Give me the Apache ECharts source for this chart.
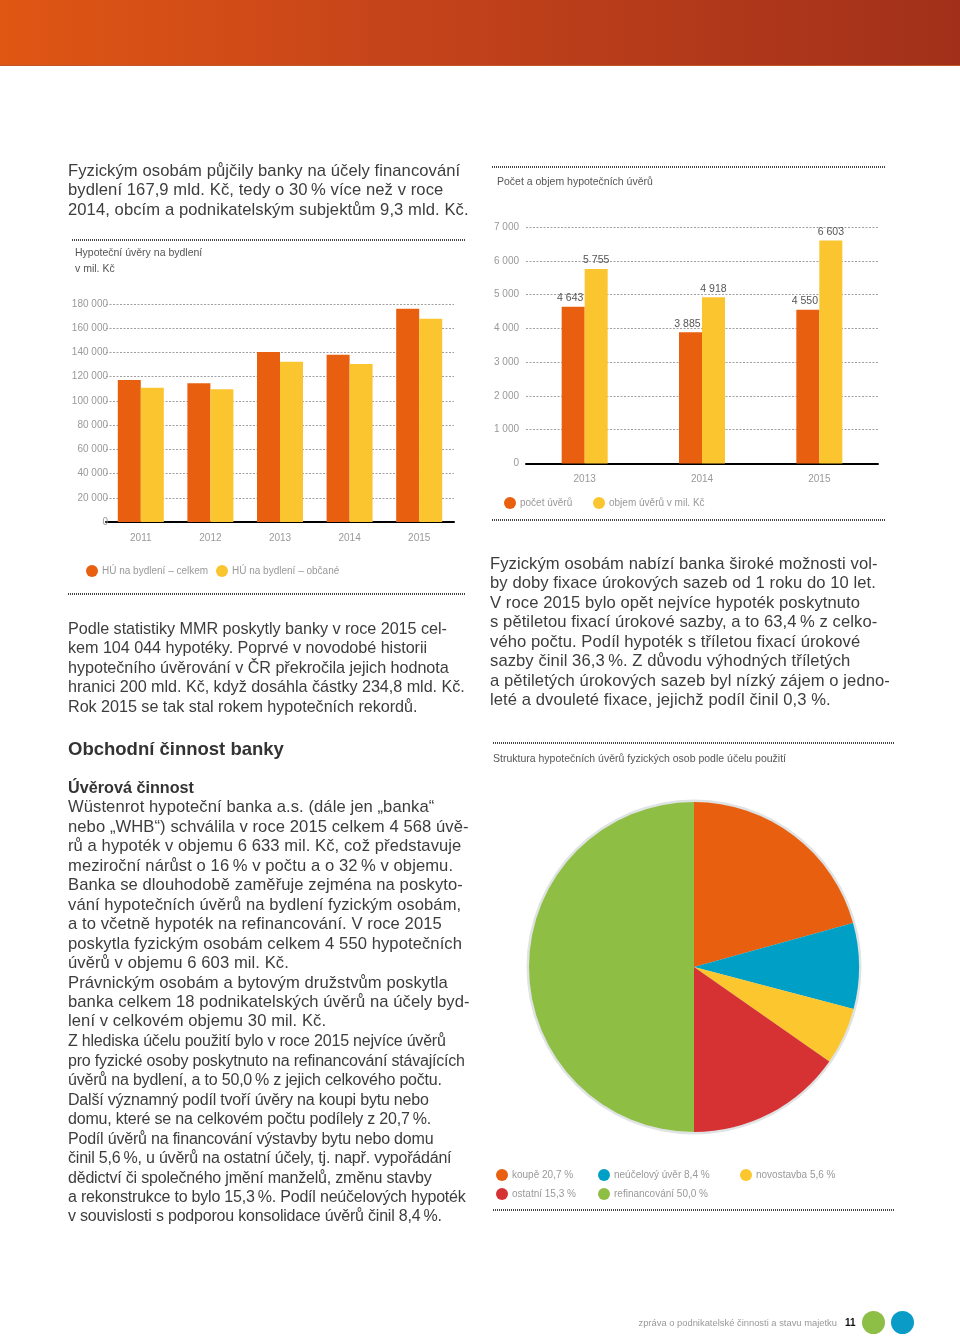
<!DOCTYPE html>
<html>
<head>
<meta charset="utf-8">
<script src="https://cdn.jsdelivr.net/npm/echarts@6/dist/echarts.min.js"></script>
<style>
  html, body { margin: 0; padding: 0; background: #fff; }
  body { width: 960px; height: 1339px; position: relative; overflow: hidden;
         font-family: "Liberation Sans", Arial, Helvetica, sans-serif; }
  #chart { position: absolute; left: 0; top: 0; width: 960px; height: 1339px; }
  .hdr { position: absolute; left: 0; top: 0; width: 960px; height: 65px;
         background: linear-gradient(90deg, #E05713 0%, #C6441A 40%, #A1301A 100%);
         border-bottom: 1px solid #C0562A; }
  .txt { position: absolute; white-space: pre; color: #3d3d3d; font-size: 16.6px;
         line-height: 19.45px; letter-spacing: 0.08px; }
  .h1 { position: absolute; white-space: pre; color: #333; font-size: 18.5px; font-weight: bold; line-height: 22px; }
  .dots { position: absolute; height: 2px;
          background-image: repeating-linear-gradient(90deg, #444 0 1px, transparent 1px 2px); }
  .foot { position: absolute; white-space: pre; font-size: 9.4px; color: #999; }
  .circ { position: absolute; border-radius: 50%; }
</style>
</head>
<body>
<div class="hdr"></div>
<div id="chart"></div>

<div class="dots" style="left:72px; top:239px; width:393px;"></div>
<div class="dots" style="left:68px; top:593px; width:397px;"></div>
<div class="dots" style="left:492px; top:166px; width:393px;"></div>
<div class="dots" style="left:492px; top:519px; width:393px;"></div>
<div class="dots" style="left:493px; top:742px; width:402px;"></div>
<div class="dots" style="left:493px; top:1209px; width:402px;"></div>

<div class="txt" id="b1" style="left:68px; top:161px;"></div>
<div class="txt" id="b2" style="left:68px; top:619px; font-size:16.2px; letter-spacing:-0.05px;"></div>
<div class="txt" id="b3" style="left:490px; top:554px;"></div>
<div class="h1" style="left:68px; top:738px;">Obchodní činnost banky</div>
<div class="txt" id="b4" style="left:68px; top:778px;"></div>
<div class="txt" id="b5" style="left:68px; top:1031.4px; font-size:16px; letter-spacing:-0.2px;"></div>

<div class="foot" style="right:123px; top:1317px;">zpráva o podnikatelské činnosti a stavu majetku</div>
<div class="foot" style="left:845px; top:1317px; color:#111; font-weight:bold; font-size:10px;">11</div>
<div class="circ" style="left:862px; top:1311px; width:23px; height:23px; background:#8DBE45;"></div>
<div class="circ" style="left:891px; top:1311px; width:23px; height:23px; background:#0A9CC6;"></div>

<script>
// ---------- data ----------
const years1 = ['2011', '2012', '2013', '2014', '2015'];
const huCelkem = [117300, 114500, 140400, 138100, 176000];
const huObcane = [110900, 109600, 132400, 130500, 167900];

const years2 = ['2013', '2014', '2015'];
const pocetUveru = [4643, 3885, 4550];
const objemUveru = [5755, 4918, 6603];

const pieNames = ['koupě', 'neúčelový úvěr', 'novostavba', 'ostatní', 'refinancování'];
const pieValues = [20.7, 8.4, 5.6, 15.3, 50.0];

// ---------- texts ----------
const text1 = [
  'Fyzickým osobám půjčily banky na účely financování',
  'bydlení 167,9 mld. Kč, tedy o 30\u2009% více než v roce',
  '2014, obcím a podnikatelským subjektům 9,3 mld. Kč.'
];
const text2 = [
  'Podle statistiky MMR poskytly banky v roce 2015 cel-',
  'kem 104 044 hypotéky. Poprvé v novodobé historii',
  'hypotečního úvěrování v ČR překročila jejich hodnota',
  'hranici 200 mld. Kč, když dosáhla částky 234,8 mld. Kč.',
  'Rok 2015 se tak stal rokem hypotečních rekordů.'
];
const text3 = [
  'Fyzickým osobám nabízí banka široké možnosti vol-',
  'by doby fixace úrokových sazeb od 1 roku do 10 let.',
  'V roce 2015 bylo opět nejvíce hypoték poskytnuto',
  's pětiletou fixací úrokové sazby, a to 63,4\u2009% z celko-',
  'vého počtu. Podíl hypoték s tříletou fixací úrokové',
  'sazby činil 36,3\u2009%. Z důvodu výhodných tříletých',
  'a pětiletých úrokových sazeb byl nízký zájem o jedno-',
  'leté a dvouleté fixace, jejichž podíl činil 0,3 %.'
];
const text4 = [
  'Wüstenrot hypoteční banka a.s. (dále jen „banka“',
  'nebo „WHB“) schválila v roce 2015 celkem 4 568 úvě-',
  'rů a hypoték v objemu 6 633 mil. Kč, což představuje',
  'meziroční nárůst o 16\u2009% v počtu a o 32\u2009% v objemu.',
  'Banka se dlouhodobě zaměřuje zejména na poskyto-',
  'vání hypotečních úvěrů na bydlení fyzickým osobám,',
  'a to včetně hypoték na refinancování. V roce 2015',
  'poskytla fyzickým osobám celkem 4 550 hypotečních',
  'úvěrů v objemu 6 603 mil. Kč.',
  'Právnickým osobám a bytovým družstvům poskytla',
  'banka celkem 18 podnikatelských úvěrů na účely byd-',
  'lení v celkovém objemu 30 mil. Kč.'
];
const text5 = [
  'Z hlediska účelu použití bylo v roce 2015 nejvíce úvěrů',
  'pro fyzické osoby poskytnuto na refinancování stávajících',
  'úvěrů na bydlení, a to 50,0\u2009% z jejich celkového počtu.',
  'Další významný podíl tvoří úvěry na koupi bytu nebo',
  'domu, které se na celkovém počtu podílely z 20,7\u2009%.',
  'Podíl úvěrů na financování výstavby bytu nebo domu',
  'činil 5,6\u2009%, u úvěrů na ostatní účely, tj. např. vypořádání',
  'dědictví či společného jmění manželů, změnu stavby',
  'a rekonstrukce to bylo 15,3\u2009%. Podíl neúčelových hypoték',
  'v souvislosti s podporou konsolidace úvěrů činil 8,4\u2009%.'
];
document.getElementById('b1').textContent = text1.join('\n');
document.getElementById('b2').textContent = text2.join('\n');
document.getElementById('b3').textContent = text3.join('\n');
document.getElementById('b5').textContent = text5.join('\n');
const b4 = document.getElementById('b4');
const sub = document.createElement('span');
sub.style.fontWeight = 'bold';
sub.style.color = '#333';
sub.style.fontSize = '16.2px';
sub.style.letterSpacing = '0px';
sub.textContent = 'Úvěrová činnost';
b4.appendChild(sub);
b4.appendChild(document.createTextNode('\n' + text4.join('\n')));

// ---------- chart ----------
const FONT = '"Liberation Sans", Arial, Helvetica, sans-serif';
const ORANGE = '#E8600F';
const YELLOW = '#FBC530';
const pieColors = ['#E8600F', '#00A0C6', '#FCC62F', '#D63234', '#8FBE45'];
const thou = v => String(v).replace(/\B(?=(\d{3})+(?!\d))/g, ' ');

const gridLine = { show: true, lineStyle: { color: '#a0a0a0', type: [2, 1.5], width: 1 } };
const xCommon = {
  type: 'category',
  axisLine: { lineStyle: { color: '#000', width: 2 } },
  axisTick: { show: false },
  axisLabel: { color: '#999', fontSize: 10, margin: 11, fontFamily: FONT }
};
const yCommon = {
  type: 'value', min: 0,
  axisLine: { show: false }, axisTick: { show: false },
  splitLine: gridLine,
  axisLabel: { color: '#999', fontSize: 10, margin: -2, fontFamily: FONT, formatter: thou }
};
const leg = (name, left, top) => ({
  data: [name], left: left, top: top, padding: 0, itemWidth: 12, itemHeight: 12,
  icon: 'circle', itemGap: 0, selectedMode: false,
  textStyle: { color: '#999', fontSize: 10, fontFamily: FONT, padding: [0, 0, 0, -1] }
});
const pieLeg = (name, left, top) => {
  const l = leg(name, left, top);
  l.formatter = n => n + ' ' + pieValues[pieNames.indexOf(n)].toFixed(1).replace('.', ',') + ' %';
  return l;
};

const chart = echarts.init(document.getElementById('chart'), null, { renderer: 'canvas' });
chart.setOption({
  animation: false,
  textStyle: { fontFamily: FONT },
  title: [
    { text: 'Hypoteční úvěry na bydlení\nv mil. Kč', left: 75, top: 245, padding: 0,
      textStyle: { fontSize: 10.5, color: '#555', fontWeight: 'normal', lineHeight: 16, fontFamily: FONT } },
    { text: 'Počet a objem hypotečních úvěrů', left: 497, top: 177, padding: 0,
      textStyle: { fontSize: 10.5, color: '#555', fontWeight: 'normal', fontFamily: FONT } },
    { text: 'Struktura hypotečních úvěrů fyzických osob podle účelu použití', left: 493, top: 754, padding: 0,
      textStyle: { fontSize: 10.5, color: '#555', fontWeight: 'normal', fontFamily: FONT } }
  ],
  legend: [
    leg('HÚ na bydlení – celkem', 86, 565),
    leg('HÚ na bydlení – občané', 216, 565),
    leg('počet úvěrů', 504, 497),
    leg('objem úvěrů v mil. Kč', 593, 497),
    pieLeg('koupě', 496, 1169),
    pieLeg('neúčelový úvěr', 598, 1169),
    pieLeg('novostavba', 740, 1169),
    pieLeg('ostatní', 496, 1188),
    pieLeg('refinancování', 598, 1188)
  ],
  grid: [
    { left: 106, top: 304, width: 348, height: 218 },
    { left: 526, top: 227, width: 352, height: 236.5 }
  ],
  xAxis: [
    Object.assign({}, xCommon, { gridIndex: 0, data: years1 }),
    Object.assign({}, xCommon, { gridIndex: 1, data: years2 })
  ],
  yAxis: [
    Object.assign({}, yCommon, { gridIndex: 0, max: 180000, interval: 20000 }),
    Object.assign({}, yCommon, { gridIndex: 1, max: 7000, interval: 1000,
      axisLabel: Object.assign({}, yCommon.axisLabel, { margin: 7 }) })
  ],
  series: [
    { name: 'HÚ na bydlení – celkem', type: 'bar', xAxisIndex: 0, yAxisIndex: 0,
      data: huCelkem, barWidth: 23, barGap: '0%', itemStyle: { color: ORANGE } },
    { name: 'HÚ na bydlení – občané', type: 'bar', xAxisIndex: 0, yAxisIndex: 0,
      data: huObcane, barWidth: 23, barGap: '0%', itemStyle: { color: YELLOW } },
    { name: 'počet úvěrů', type: 'bar', xAxisIndex: 1, yAxisIndex: 1,
      data: pocetUveru, barWidth: 23, barGap: '0%', itemStyle: { color: ORANGE },
      label: { show: true, position: 'top', distance: 3, offset: [-3, 0], color: '#555', fontSize: 10.5,
               fontFamily: FONT, formatter: p => thou(p.value) } },
    { name: 'objem úvěrů v mil. Kč', type: 'bar', xAxisIndex: 1, yAxisIndex: 1,
      data: objemUveru, barWidth: 23, barGap: '0%', itemStyle: { color: YELLOW },
      label: { show: true, position: 'top', distance: 3, color: '#555', fontSize: 10.5,
               fontFamily: FONT, formatter: p => thou(p.value) } },
    { name: 'ring', type: 'pie', center: [694, 967], radius: 167.5, silent: true, z: 1,
      label: { show: false }, labelLine: { show: false },
      data: [{ value: 1, name: 'ring', itemStyle: { color: '#dfe3e3' } }] },
    { name: 'Struktura', type: 'pie', center: [694, 967], radius: 165, startAngle: 90,
      clockwise: true, z: 2, label: { show: false }, labelLine: { show: false },
      itemStyle: { borderWidth: 0 },
      data: pieNames.map((n, i) => ({ name: n, value: pieValues[i], itemStyle: { color: pieColors[i] } })) }
  ]
});
</script>
</body>
</html>
